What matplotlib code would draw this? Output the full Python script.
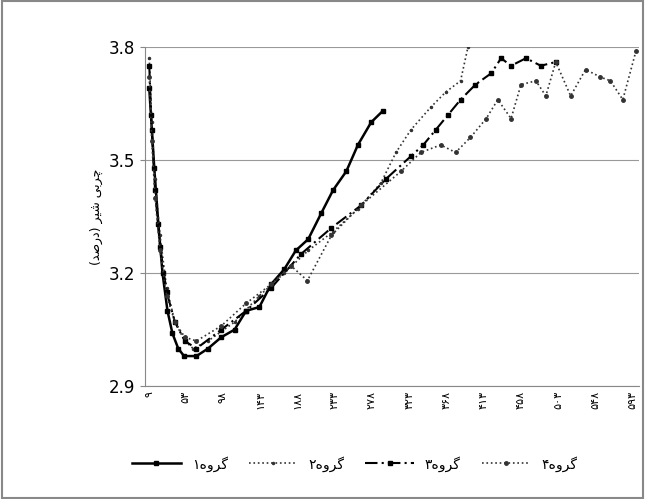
import matplotlib.pyplot as plt

# days and milk-fat values
x1 = [9, 11, 15, 20, 25, 31, 37, 44, 51, 66, 80, 96, 112, 126, 142, 156, 172, 186, 201, 217, 231, 247, 261, 277, 291]
y1 = [3.69, 3.62, 3.48, 3.33, 3.2, 3.1, 3.04, 3.0, 2.98, 2.98, 3.0, 3.03, 3.05, 3.1, 3.11, 3.17, 3.21, 3.26, 3.29, 3.36, 3.42, 3.47, 3.54, 3.6, 3.63]
x2 = [9, 12, 16, 22, 30, 40, 52, 62, 80, 112, 142, 172, 201, 231, 261, 289, 307, 325, 349, 367, 385, 394, 410]
y2 = [3.77, 3.6, 3.45, 3.3, 3.16, 3.07, 3.02, 3.0, 3.02, 3.07, 3.14, 3.2, 3.26, 3.31, 3.37, 3.44, 3.52, 3.58, 3.64, 3.68, 3.71, 3.8, 3.95]
x3 = [9, 12, 16, 22, 30, 40, 52, 66, 96, 126, 156, 192, 229, 265, 295, 325, 340, 355, 370, 385, 403, 422, 434, 446, 464, 482, 500]
y3 = [3.75, 3.58, 3.42, 3.27, 3.15, 3.07, 3.02, 3.0, 3.05, 3.1, 3.16, 3.25, 3.32, 3.38, 3.45, 3.51, 3.54, 3.58, 3.62, 3.66, 3.7, 3.73, 3.77, 3.75, 3.77, 3.75, 3.76]
x4 = [9, 12, 16, 22, 30, 40, 52, 66, 96, 126, 156, 180, 200, 229, 265, 313, 337, 361, 379, 397, 416, 430, 446, 458, 476, 488, 500, 518, 536, 554, 566, 581, 597]
y4 = [3.72, 3.55, 3.4, 3.26, 3.14, 3.07, 3.03, 3.02, 3.06, 3.12, 3.17, 3.22, 3.18, 3.3, 3.38, 3.47, 3.52, 3.54, 3.52, 3.56, 3.61, 3.66, 3.61, 3.7, 3.71, 3.67, 3.76, 3.67, 3.74, 3.72, 3.71, 3.66, 3.79]
ticks = [9, 53, 98, 143, 188, 233, 278, 323, 368, 413, 458, 503, 548, 593]
tick_labels = ['۹', '۵۳', '۹۸', '۱۴۳', '۱۸۸', '۲۳۳', '۲۷۸', '۳۲۳', '۳۶۸', '۴۱۳', '۴۵۸', '۵۰۳', '۵۴۸', '۵۹۳']
# Persian text written in shaped presentation forms, visual order
ylabel = '(\uFEAA\uFEBB\uFEAD\uFEA9) \uFEAE\uFBFF\uFEB7 \uFBFD\uFE91\uFEAE\uFB7C'
group_word = '\uFEE9\uFEED\uFEAE\uFB94'
names = ['۱' + group_word, '۲' + group_word, '۳' + group_word, '۴' + group_word]

fig = plt.figure(figsize=(6.45, 4.99), dpi=100)
fig.patches.append(plt.Rectangle((0.003, 0.003), 0.994, 0.994, transform=fig.transFigure,
                                 fill=False, edgecolor='#888888', linewidth=1.5))
ax = fig.add_axes([0.225, 0.226, 0.765, 0.68])

ax.plot(x1, y1, '-', color='black', lw=1.8, marker='s', ms=2.5, label=names[0])
ax.plot(x2, y2, ':', color='#333333', lw=1.2, marker='.', ms=3, label=names[1])
ax.plot(x3, y3, color='black', lw=1.5, ls=(0, (6, 2, 1, 2)), marker='s', ms=3, label=names[2])
ax.plot(x4, y4, ':', color='#333333', lw=1.2, marker='o', ms=2.5, label=names[3])

ax.set_xlim(4, 600)
ax.set_ylim(2.9, 3.8)
ax.set_yticks([2.9, 3.2, 3.5, 3.8])
ax.set_yticklabels(['2.9', '3.2', '3.5', '3.8'], fontsize=12)
ax.set_xticks(ticks)
ax.set_xticklabels(tick_labels, rotation=90, fontsize=8, family=['DejaVu Sans'])
ax.grid(axis='y', color='#999999', lw=0.8)
for s in ['top', 'right']:
    ax.spines[s].set_visible(False)
ax.spines['left'].set_color('#888888')
ax.spines['bottom'].set_color('#888888')
ax.tick_params(axis='x', length=0)
ax.tick_params(axis='y', direction='out', color='#888888')
ax.set_ylabel(ylabel, fontsize=9)

fig.legend(loc='lower center', bbox_to_anchor=(0.55, 0.03), ncol=4, frameon=False,
           fontsize=10, handlelength=3.5, columnspacing=1.5)
fig.savefig('out.png')
